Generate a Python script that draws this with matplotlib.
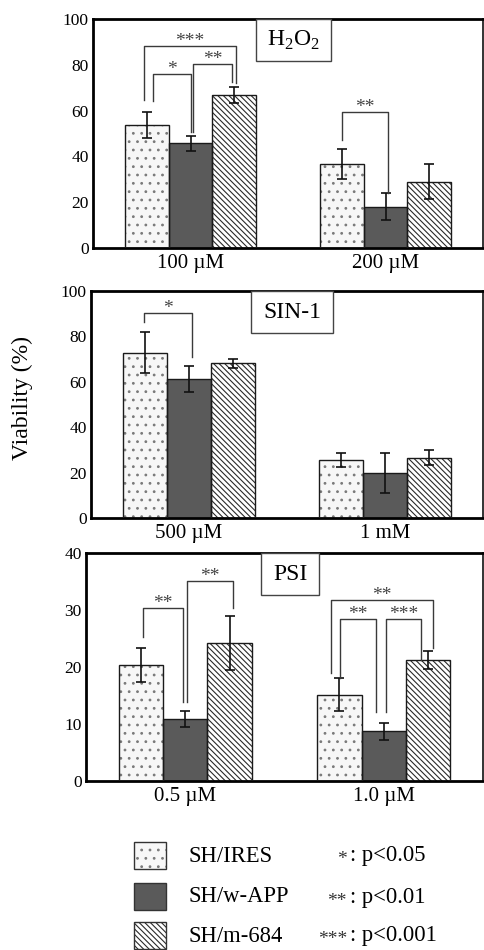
import matplotlib

matplotlib.use("Agg")
import matplotlib.pyplot as plt
from matplotlib.patches import Rectangle

plt.rcParams["font.family"] = ["Liberation Serif", "DejaVu Serif"]
plt.rcParams["mathtext.fontset"] = "custom"
plt.rcParams["mathtext.rm"] = "Liberation Serif"
plt.rcParams["hatch.linewidth"] = 0.8

# ---- data ----
series = ["SH/IRES", "SH/w-APP", "SH/m-684"]

h2o2_doses = ["100 µM", "200 µM"]
h2o2_ires = [53.7, 36.7]
h2o2_ires_err = [5.6, 6.5]
h2o2_wapp = [45.7, 18.0]
h2o2_wapp_err = [3.2, 5.8]
h2o2_m684 = [66.8, 29.0]
h2o2_m684_err = [3.4, 7.6]

sin1_doses = ["500 µM", "1 mM"]
sin1_ires = [72.8, 25.5]
sin1_ires_err = [9.0, 3.2]
sin1_wapp = [61.2, 20.0]
sin1_wapp_err = [5.6, 8.8]
sin1_m684 = [68.1, 26.6]
sin1_m684_err = [1.9, 3.3]

psi_doses = ["0.5 µM", "1.0 µM"]
psi_ires = [20.4, 15.1]
psi_ires_err = [3.0, 2.9]
psi_wapp = [10.9, 8.7]
psi_wapp_err = [1.4, 1.5]
psi_m684 = [24.2, 21.2]
psi_m684_err = [4.7, 1.6]

# brackets: (group, bar i, bar j, top, left leg end, right leg end, label, dx_i, dx_j)
h2o2_brackets = [
    (0, 0, 2, 88.0, 64.6, 72.0, "***", -0.014, 0.009),
    (0, 0, 1, 76.0, 64.0, 50.8, "*", 0.032, 0.003),
    (0, 1, 2, 80.4, 50.8, 72.6, "**", 0.013, -0.011),
    (1, 0, 1, 59.4, 47.0, 24.0, "**", 0.001, 0.013),
]
sin1_brackets = [
    (0, 0, 1, 90.4, 86.5, 71.0, "*", -0.006, 0.015),
]
psi_brackets = [
    (0, 0, 1, 30.3, 25.3, 13.9, "**", 0.011, -0.011),
    (0, 1, 2, 35.1, 13.9, 30.3, "**", 0.009, 0.017),
    (1, 0, 2, 31.8, 18.9, 23.3, "**", -0.042, 0.024),
    (1, 0, 1, 28.4, 18.0, 12.1, "**", 0.004, -0.039),
    (1, 1, 2, 28.4, 12.1, 21.2, "***", 0.011, -0.036),
]

sig_marks = ["*", "**", "***"]
sig_texts = [": p<0.05", ": p<0.01", ": p<0.001"]

# ---- styles ----
faces = ["#f7f7f7", "#5a5a5a", "white"]
hatches = ["..", "", "\\" * 6]
hatch_cols = ["#7a7a7a", "#5a5a5a", "#2a2a2a"]
W = 0.224
FW, FH = 484, 950


def px_rect(x0, y0, x1, y1):
    # pixel box (top-left origin) -> figure fraction
    return [x0 / FW, 1 - y1 / FH, (x1 - x0) / FW, (y1 - y0) / FH]


def draw_bars(ax, x, vals, errs, k):
    ax.bar(x, vals, W, color=faces[k], edgecolor=hatch_cols[k], hatch=hatches[k], linewidth=0, zorder=2)
    ax.bar(x, vals, W, fill=False, edgecolor="#1a1a1a", linewidth=1.0, zorder=3)
    ax.errorbar(x, vals, yerr=errs, fmt="none", ecolor="#111111", elinewidth=1.2,
                capsize=3.5, capthick=1.2, zorder=4)


def panel(rect, doses, data, ymax, ystep, brackets, name, box):
    ax = fig.add_axes(rect)
    centers = [0.5, 1.5]
    for k, (vals, errs) in enumerate(data):
        draw_bars(ax, [c + (k - 1) * W for c in centers], vals, errs, k)
    for g, i, j, top, le, re, lab, di, dj in brackets:
        x1 = centers[g] + (i - 1) * W + di
        x2 = centers[g] + (j - 1) * W + dj
        ax.plot([x1, x1, x2, x2], [le, top, top, re], color="#3a3a3a", lw=1.0, zorder=5)
        ax.text((x1 + x2) / 2, top, lab, ha="center", va="baseline", fontsize=14, color="#444444")
    ax.set_xlim(0, 2)
    ax.set_ylim(0, ymax)
    ax.set_yticks(range(0, ymax + 1, ystep))
    ax.set_xticks(centers, doses)
    ax.tick_params(axis="y", length=0, pad=3, labelsize=12.5)
    ax.tick_params(axis="x", length=0, pad=4, labelsize=15)
    for s in ["left", "bottom", "top"]:
        ax.spines[s].set_linewidth(2.0)
    ax.spines["right"].set_linewidth(1.4)
    ax.spines["right"].set_color("#333333")
    bx0, bx1 = box
    ax.add_patch(Rectangle((bx0, 0.816), bx1 - bx0, 0.184, transform=ax.transAxes,
                           facecolor="white", edgecolor="#444444", lw=1.0, zorder=6, clip_on=False))
    ax.text((bx0 + bx1) / 2, 0.905, name, transform=ax.transAxes, ha="center", va="center",
            fontsize=17, zorder=7)
    return ax


fig = plt.figure(figsize=(FW / 100, FH / 100), dpi=100)

panel(px_rect(93, 19, 483, 248), h2o2_doses,
      [(h2o2_ires, h2o2_ires_err), (h2o2_wapp, h2o2_wapp_err), (h2o2_m684, h2o2_m684_err)],
      100, 20, h2o2_brackets, r"H$_\mathrm{2}$O$_\mathrm{2}$", (0.418, 0.610))
panel(px_rect(91, 291, 483, 518), sin1_doses,
      [(sin1_ires, sin1_ires_err), (sin1_wapp, sin1_wapp_err), (sin1_m684, sin1_m684_err)],
      100, 20, sin1_brackets, "SIN-1", (0.408, 0.617))
panel(px_rect(86, 553, 483, 781), psi_doses,
      [(psi_ires, psi_ires_err), (psi_wapp, psi_wapp_err), (psi_m684, psi_m684_err)],
      40, 10, psi_brackets, "PSI", (0.441, 0.587))

fig.text(22 / FW, 1 - 398 / FH, "Viability (%)", rotation=90, ha="center", va="center", fontsize=17)

# ---- legend ----
row_top = [842, 883, 922]
for k, name in enumerate(series):
    r = px_rect(134, row_top[k], 166, row_top[k] + 27)
    fig.add_artist(Rectangle((r[0], r[1]), r[2], r[3], transform=fig.transFigure,
                             facecolor=faces[k], edgecolor=hatch_cols[k], hatch=hatches[k], lw=0))
    fig.add_artist(Rectangle((r[0], r[1]), r[2], r[3], transform=fig.transFigure,
                             fill=False, edgecolor="#333333", lw=1.0))
    yc = 1 - (row_top[k] + 14) / FH
    fig.text(188 / FW, yc, name, ha="left", va="center", fontsize=16.3)
    # the serif asterisk sits high, drop it to mid-height like the original
    fig.text(347 / FW, yc - 4 / FH, sig_marks[k], ha="right", va="center", fontsize=14, color="#333333")
    fig.text(350 / FW, yc, sig_texts[k], ha="left", va="center", fontsize=16.3)

fig.savefig("out.png", dpi=100)
